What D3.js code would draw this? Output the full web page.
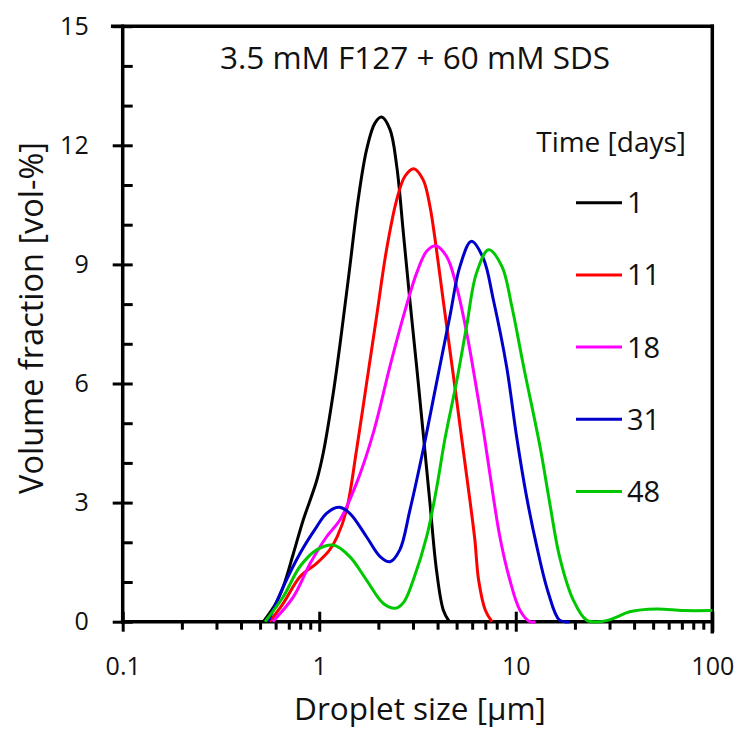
<!DOCTYPE html>
<html>
<head>
<meta charset="utf-8">
<script src="https://cdn.jsdelivr.net/npm/d3@7"></script>
<style>
  body { margin: 0; background: #fff; }
  text { font-family: "Open Sans", Lato, sans-serif; fill: #111; }
</style>
</head>
<body>
<div class="chart"></div>
<script>
// --- data: [droplet size in um, volume fraction in vol-%]
var days = ['1', '11', '18', '31', '48'];
var colors = ['#000000', '#ff0000', '#ff00ff', '#0000cc', '#00c800'];

var day1 = [[0.52,0],[0.6,0.45],[0.656,0.88],[0.74,1.73],[0.829,2.56],[0.97,3.55],[1.048,4.25],
  [1.178,5.75],[1.3,7.3],[1.432,8.95],[1.578,10.63],[1.742,11.89],[1.92,12.56],[2.076,12.71],
  [2.29,12.4],[2.48,11.47],[2.68,9.79],[2.89,8.11],[3.13,6.43],[3.38,4.75],[3.66,2.98],
  [3.95,1.3],[4.28,0.29],[4.59,0]];
var day11 = [[0.56,0],[0.656,0.46],[0.798,1.13],[0.97,1.47],[1.13,1.81],[1.235,2.14],[1.378,2.82],
  [1.549,4.33],[1.742,6.01],[1.958,7.69],[2.2,9.37],[2.48,10.63],[2.73,11.22],[3.03,11.41],
  [3.38,11.13],[3.66,10.46],[3.95,9.37],[4.27,8.11],[4.62,6.85],[5.0,5.59],[5.4,4.33],
  [5.84,3.07],[6.19,2.07],[6.47,1.05],[7.0,0.29],[7.57,0]];
var day18 = [[0.58,0],[0.74,0.63],[0.9,1.47],[1.09,2.14],[1.274,2.56],[1.549,3.49],[1.883,4.75],
  [2.29,6.43],[2.68,7.69],[3.13,8.78],[3.52,9.33],[3.91,9.47],[4.45,9.2],[5.0,8.44],[5.63,7.27],
  [6.2,6.1],[6.9,4.7],[7.5,3.5],[8.3,2.14],[9.33,1.05],[10.5,0.29],[11.8,0],[12.6,0]];
var day31 = [[0.55,0],[0.656,0.88],[0.798,1.72],[0.97,2.39],[1.09,2.73],[1.26,2.88],[1.43,2.73],
  [1.74,2.14],[2.04,1.64],[2.29,1.51],[2.57,1.81],[2.89,2.8],[3.38,4.33],[3.95,6.01],[4.62,7.69],
  [5.2,8.95],[5.94,9.58],[6.84,9.15],[7.69,8.11],[8.98,6.43],[10.1,4.66],[11.35,3.15],
  [12.8,1.89],[14.6,0.75],[16.7,0.04],[18.8,0]];
var day48 = [[0.53,0],[0.656,0.63],[0.798,1.39],[0.97,1.81],[1.18,1.93],[1.43,1.64],[1.74,1.05],
  [2.12,0.46],[2.45,0.34],[2.7,0.5],[3.01,1.05],[3.52,2.14],[3.95,3.35],[4.36,4.6],[5.0,6.05],
  [5.62,7.44],[6.31,8.78],[7.28,9.37],[8.5,8.95],[9.55,7.94],[10.96,6.43],[13.3,4.4],[14.9,2.98],
  [16.7,1.64],[19.6,0.55],[22.9,0.04],[26.8,0],[31.3,0.08],[38,0.25],[52,0.32],[71,0.28],[100,0.28]];
var series = [day1, day11, day18, day31, day48];

var xMajor = [0.1, 1, 10, 100];
var yMajor = [0, 3, 6, 9, 12, 15];

var width = 745, height = 729;
var svg = d3.select('.chart').append('svg')
  .attr('width', width)
  .attr('height', height);

var x = d3.scaleLog().domain([0.1, 100]).range([122.7, 712.3]);
var y = d3.scaleLinear().domain([0, 15]).range([621.7, 26.2]);

//minor ticks between the majors
var xMinor = [];
[0.1, 1, 10].forEach(function(d) {
  for (var k = 2; k <= 9; k++) xMinor.push(d * k);
});
var yMinor = d3.range(0, 16).filter(function(d) { return d % 3 !== 0; });

function styleAxis(g, w) {
  g.selectAll('.tick line').attr('stroke', '#000').attr('stroke-width', w);
  g.select('.domain').remove();
}

// x axis
var gx = svg.append('g').attr('transform', 'translate(0,' + y(0) + ')');
gx.call(d3.axisBottom(x).tickValues(xMajor).tickSize(10).tickPadding(26)
  .tickFormat(function(d) { return d; }))
  .call(styleAxis, 3);
gx.selectAll('text').attr('font-size', 25).attr('fill', '#111');
svg.append('g').attr('transform', 'translate(0,' + y(0) + ')')
  .call(d3.axisTop(x).tickValues(xMajor).tickSize(10).tickFormat(''))
  .call(styleAxis, 3);
svg.append('g').attr('transform', 'translate(0,' + y(0) + ')')
  .call(d3.axisBottom(x).tickValues(xMinor).tickSize(8).tickFormat(''))
  .call(styleAxis, 3);

// y axis
var gy = svg.append('g').attr('transform', 'translate(' + x(0.1) + ',0)');
gy.call(d3.axisLeft(y).tickValues(yMajor).tickSize(10).tickPadding(24))
  .call(styleAxis, 3);
gy.selectAll('text').attr('font-size', 25).attr('fill', '#111');
svg.append('g').attr('transform', 'translate(' + x(0.1) + ',0)')
  .call(d3.axisRight(y).tickValues(yMajor).tickSize(10).tickFormat(''))
  .call(styleAxis, 3);
svg.append('g').attr('transform', 'translate(' + x(0.1) + ',0)')
  .call(d3.axisRight(y).tickValues(yMinor).tickSize(10).tickFormat(''))
  .call(styleAxis, 3);

// frame: left, bottom, top, right
var frame = [
  [x(0.1), y(0), x(0.1), y(15)],
  [x(0.1), y(0), x(100), y(0)],
  [x(0.1) - 10, y(15), x(100), y(15)],
  [x(100), y(15), x(100), y(0) + 10]
];
svg.selectAll('line.frame').data(frame).enter().append('line')
  .attr('class', 'frame')
  .attr('x1', function(d) { return d[0]; })
  .attr('y1', function(d) { return d[1]; })
  .attr('x2', function(d) { return d[2]; })
  .attr('y2', function(d) { return d[3]; })
  .attr('stroke', '#000')
  .attr('stroke-width', 3.5)
  .attr('stroke-linecap', 'square');

// curves
var line = d3.line()
  .x(function(d) { return x(d[0]); })
  .y(function(d) { return y(d[1]); })
  .curve(d3.curveCatmullRom.alpha(0.5));

svg.selectAll('path.curve').data(series).enter().append('path')
  .attr('class', 'curve')
  .attr('d', line)
  .attr('fill', 'none')
  .attr('stroke', function(d, i) { return colors[i]; })
  .attr('stroke-width', 3)
  .attr('stroke-linejoin', 'round');

// titles
svg.append('text')
  .attr('x', 415).attr('y', 69)
  .attr('text-anchor', 'middle')
  .attr('font-size', 31.5)
  .text('3.5 mM F127 + 60 mM SDS');

svg.append('text')
  .attr('x', 420).attr('y', 720)
  .attr('text-anchor', 'middle')
  .attr('font-size', 31.5)
  .text('Droplet size [\u00b5m]');

svg.append('text')
  .attr('transform', 'translate(43,' + 318 + ') rotate(-90)')
  .attr('text-anchor', 'middle')
  .attr('font-size', 32.5)
  .text('Volume fraction [vol-%]');

// legend
var legend = svg.append('g');
legend.append('text')
  .attr('x', 686).attr('y', 152)
  .attr('text-anchor', 'end')
  .attr('font-size', 28)
  .text('Time [days]');

var item = legend.selectAll('g.item').data(days).enter().append('g')
  .attr('class', 'item')
  .attr('transform', function(d, i) { return 'translate(0,' + (202.7 + i * 72.2) + ')'; });
item.append('line')
  .attr('x1', 576).attr('x2', 622)
  .attr('stroke', function(d, i) { return colors[i]; })
  .attr('stroke-width', 3);
item.append('text')
  .attr('x', 627).attr('y', 10.5)
  .attr('font-size', 29)
  .text(function(d) { return d; });
</script>
</body>
</html>
